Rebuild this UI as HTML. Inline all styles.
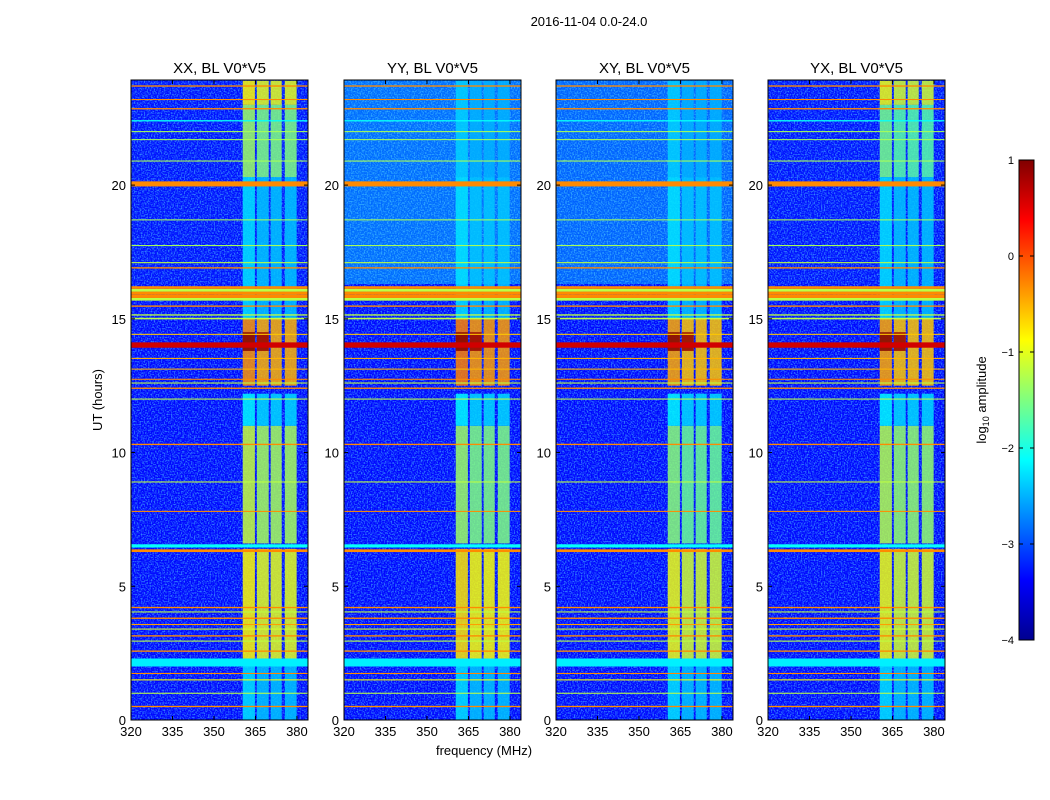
<!DOCTYPE html>
<html><head><meta charset="utf-8"><style>
body{margin:0;background:#fff;}
svg{display:block;font-family:"Liberation Sans",sans-serif;}
</style></head><body>
<svg id="fig" width="1050" height="800">
<defs>
<filter id="noise" x="0" y="0" width="100%" height="100%">
<feTurbulence type="fractalNoise" baseFrequency="0.7" numOctaves="1" seed="3"/>
<feColorMatrix type="matrix" values="0 0 0 0 0.1  0 0 0 0 0.75  0 0 0 0 1  3.2 0 0 0 -1.35"/>
</filter>
<linearGradient id="jetGrad" x1="0" y1="1" x2="0" y2="0">
<stop offset="0" stop-color="#00008f"/><stop offset="0.125" stop-color="#0000ff"/>
<stop offset="0.375" stop-color="#00ffff"/><stop offset="0.625" stop-color="#ffff00"/>
<stop offset="0.875" stop-color="#ff0000"/><stop offset="1" stop-color="#800000"/>
</linearGradient>
</defs>
<text x="589" y="26" font-size="13" text-anchor="middle">2016-11-04 0.0-24.0</text>
<text x="484" y="755" font-size="13" text-anchor="middle">frequency (MHz)</text>
<text transform="translate(102,400) rotate(-90)" font-size="13" text-anchor="middle">UT (hours)</text>
<g id="panels"></g>
<g id="cbar">
<rect x="1019" y="160" width="15" height="480" fill="url(#jetGrad)" stroke="#000" stroke-width="1"/>
<text transform="translate(986,400) rotate(-90)" font-size="13" text-anchor="middle">log<tspan font-size="9" dy="3">10</tspan><tspan dy="-3"> amplitude</tspan></text>
</g>
</svg>
<script>
const panelTitles = ["XX, BL V0*V5","YY, BL V0*V5","XY, BL V0*V5","YX, BL V0*V5"];
const xTicks = [320,335,350,365,380];
const yTicks = [0,5,10,15,20];
const cbTicks = [1,0,-1,-2,-3,-4];
const bandLo = [360.4,365.5,370.5,375.6];
const bandHi = [364.8,369.8,374.5,379.9];
// horizontal RFI lines: start hour, duration hour, log amplitude
const lineStart = [0.48,0.98,1.48,1.72,2.0,2.55,2.93,3.12,3.38,3.55,3.78,4.02,4.18,6.28,6.45,7.78,8.88,10.28,11.98,12.38,12.58,12.72,13.1,13.5,13.92,14.4,14.98,15.12,15.45,15.68,15.78,15.9,16.02,16.12,16.88,17.08,17.72,18.68,19.95,20.04,20.88,21.68,21.98,22.38,22.83,23.18,23.68];
const lineDur = [0.05,0.04,0.04,0.04,0.3,0.05,0.04,0.05,0.04,0.04,0.05,0.04,0.05,0.1,0.12,0.04,0.04,0.05,0.04,0.05,0.04,0.04,0.04,0.04,0.2,0.04,0.06,0.05,0.05,0.1,0.12,0.12,0.1,0.1,0.05,0.04,0.04,0.04,0.1,0.1,0.04,0.04,0.04,0.05,0.05,0.04,0.05];
const lineLevel = [-0.3,-1.2,-0.9,-0.3,-2.2,-0.3,-1.2,-0.3,-1.1,-0.4,-0.3,-1.2,-0.3,-0.3,-2.1,-0.3,-1.2,-0.3,-1.2,-0.3,-1.2,-0.3,-0.5,-0.5,0.6,-0.6,-1.2,-1.2,-0.3,-1.2,-0.3,-0.3,-1.2,-0.3,-0.3,-1.2,-1.3,-1.3,-0.3,-0.3,-1.3,-1.3,-1.3,-2.1,-0.3,-0.3,-0.3];
// background levels per panel for noisier upper part (hours 16.3-24)
const upperStart = 16.3, upperEnd = 23.93;
const upperLevel = [-3.3,-2.85,-2.9,-3.3];
// band segments per panel: start, end, level, which columns (bitmask 1..15)
const segStart = [[0,2.2,6.6,11,12.5,13.8,15,20.3,23],[0,2.2,6.6,11,12.5,13.8,15,20.3],[0,2.2,6.6,11,12.5,13.8,15,20.3],[0,2.2,6.6,11,12.5,13.8,15,20.3,23]];
const segEnd = [[2.2,6.4,11,12.2,15,14.5,20.3,23,23.9],[2.2,6.4,11,12.2,15,14.5,20.3,23.9],[2.2,6.4,11,12.2,15,14.5,20.3,23.9],[2.2,6.4,11,12.2,15,14.5,20.3,23,23.9]];
const segLevel = [[-2.4,-1.0,-1.3,-2.3,-0.5,0.9,-2.4,-1.5,-1.0],[-2.4,-0.9,-1.5,-2.3,-0.4,0.9,-2.4,-2.5],[-2.4,-1.1,-1.6,-2.3,-0.6,0.9,-2.4,-2.5],[-2.4,-1.1,-1.4,-2.3,-0.6,0.9,-2.4,-1.7,-1.1]];
const segMask = [[15,15,15,15,15,3,15,15,15],[15,15,15,15,15,3,15,15],[15,15,15,15,15,3,15,15],[15,15,15,15,15,3,15,15,15]];

const panelX = [131,344,556,768], PW = 177, PT = 80, PH = 640;
const fMin = 320, fMax = 384, hMin = 0, hMax = 23.93;
function xs(p,f){return panelX[p] + (f - fMin)/(fMax - fMin)*PW;}
function ys(h){return PT + PH - (h - hMin)/(hMax - hMin)*PH;}
function jet(v){
  let t = Math.max(0,Math.min(1,(v+4)/5));
  const c = x => Math.round(255*Math.max(0,Math.min(1,x)));
  return `rgb(${c(1.5-Math.abs(4*t-3))},${c(1.5-Math.abs(4*t-2))},${c(1.5-Math.abs(4*t-1))})`;
}
const NS = "http://www.w3.org/2000/svg";
function mk(tag, attrs, parent){const e=document.createElementNS(NS,tag);for(const k in attrs)e.setAttribute(k,attrs[k]);parent.appendChild(e);return e;}
const root = document.getElementById('panels');
for(let p=0;p<4;p++){
  const g = mk('g',{},root);
  
  
  const bg = mk('rect',{x:panelX[p],y:PT,width:PW,height:PH,fill:jet(-3.35)},g);
  
  
  const up = mk('rect',{x:panelX[p],y:ys(upperEnd),width:PW,height:ys(upperStart)-ys(upperEnd),fill:jet(upperLevel[p])},g);
  
  
  const nz = mk('rect',{x:panelX[p],y:PT,width:PW,height:PH,fill:'#000',filter:'url(#noise)',opacity:0.55},g);
  
  
  for(let s=0;s<segStart[p].length;s++){
    for(let b=0;b<4;b++){
      if(!(segMask[p][s] & (1<<b))) continue;
      const r = mk('rect',{x:xs(p,bandLo[b]),y:ys(segEnd[p][s]),width:xs(p,bandHi[b])-xs(p,bandLo[b]),height:ys(segStart[p][s])-ys(segEnd[p][s]),fill:jet(segLevel[p][s]+(b==0?0.15:0)),opacity:0.85},g);
      
      
    }
  }
  for(let i=0;i<lineStart.length;i++){
    const h = Math.max(1, ys(lineStart[i])-ys(lineStart[i]+lineDur[i]));
    const r = mk('rect',{x:panelX[p],y:ys(lineStart[i]+lineDur[i]),width:PW,height:h,fill:jet(lineLevel[i])},g);
    
    
  }
  const fr = mk('rect',{x:panelX[p],y:PT,width:PW,height:PH,fill:'none',stroke:'#000','stroke-width':1},g);
  
  
  const t = mk('text',{x:panelX[p]+PW/2,y:PT-7,'font-size':15,'text-anchor':'middle'},g);
  t.textContent = panelTitles[p];
  
  
  for(const f of xTicks){
    const x = xs(p,f);
    mk('line',{x1:x,y1:PT+PH,x2:x,y2:PT+PH-4,stroke:'#000'},g);
    mk('line',{x1:x,y1:PT,x2:x,y2:PT+4,stroke:'#000'},g);
    const l = mk('text',{x:x,y:PT+PH+16,'font-size':13,'text-anchor':'middle'},g);
    l.textContent = f;
    
    
  }
  for(const hv of yTicks){
    const y = ys(hv);
    mk('line',{x1:panelX[p],y1:y,x2:panelX[p]+4,y2:y,stroke:'#000'},g);
    mk('line',{x1:panelX[p]+PW,y1:y,x2:panelX[p]+PW-4,y2:y,stroke:'#000'},g);
    const l = mk('text',{x:panelX[p]-5,y:y+5,'font-size':13,'text-anchor':'end'},g);
    l.textContent = hv;
    
    
  }
}
const cb = document.getElementById('cbar');
for(const v of cbTicks){
  const y = 640 - (v+4)/5*480;
  mk('line',{x1:1019,y1:y,x2:1023,y2:y,stroke:'#000'},cb);
  mk('line',{x1:1034,y1:y,x2:1030,y2:y,stroke:'#000'},cb);
  const l = mk('text',{x:1014,y:y+4,'font-size':11,'text-anchor':'end'},cb);
  l.textContent = v<0 ? '\u2212'+(-v) : v;
  
  
}
</script>
</body></html>
